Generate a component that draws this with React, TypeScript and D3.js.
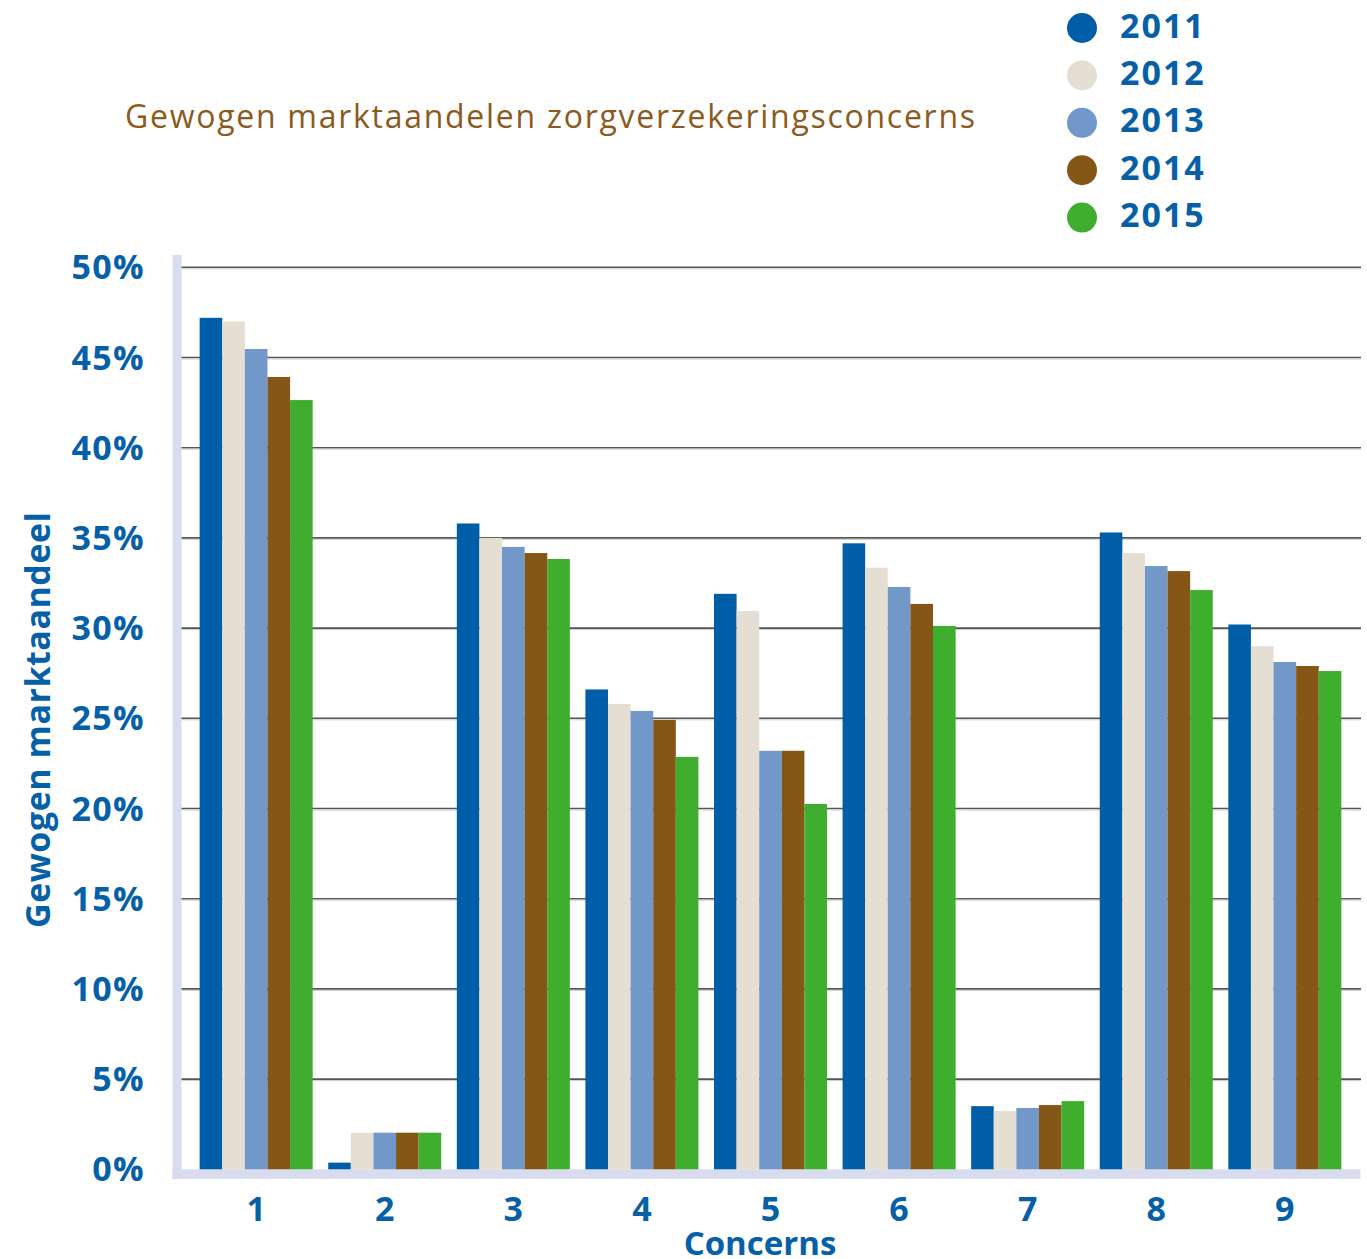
import React from "react";
import * as d3 from "d3";

const concerns = ["1", "2", "3", "4", "5", "6", "7", "8", "9"];
const years = ["2011", "2012", "2013", "2014", "2015"];
const colors = ["#005EA8", "#E5DED3", "#7298C9", "#845717", "#3FAE2E"];
const v2011 = [47.2, 0.37, 35.8, 26.6, 31.9, 34.7, 3.5, 35.3, 30.2];
const v2012 = [47.0, 2.03, 35.0, 25.8, 30.95, 33.35, 3.23, 34.16, 29.0];
const v2013 = [45.47, 2.03, 34.5, 25.41, 23.2, 32.28, 3.4, 33.44, 28.12];
const v2014 = [43.92, 2.03, 34.16, 24.91, 23.2, 31.34, 3.56, 33.16, 27.9];
const v2015 = [42.64, 2.03, 33.83, 22.86, 20.25, 30.12, 3.78, 32.11, 27.62];
const series = [v2011, v2012, v2013, v2014, v2015];
const yTicks = [0, 5, 10, 15, 20, 25, 30, 35, 40, 45, 50];

const BLUE = "#0560A8";
const FONT = "'Open Sans', 'DejaVu Sans', sans-serif";

export default function App() {
  const W = 1367;
  const H = 1259;
  const x0 = d3
    .scaleBand<string>()
    .domain(concerns)
    .range([181, 1360])
    .paddingInner(0.121)
    .paddingOuter(0.145);
  const x1 = d3
    .scaleBand<string>()
    .domain(years)
    .range([0, x0.bandwidth()])
    .padding(0);
  const y = d3.scaleLinear().domain([0, 50]).range([1169.3, 267.3]);

  return (
    <svg width={W} height={H} style={{ display: "block", position: "absolute", left: 0, top: 0 }}>
      <rect x={0} y={0} width={W} height={H} fill="#fff" />
      {/* title */}
      <text
        x={125}
        y={128}
        fill="#8B5A1C"
        fontFamily={FONT}
        fontSize={32}
        textLength={850}
        lengthAdjust="spacing"
      >
        Gewogen marktaandelen zorgverzekeringsconcerns
      </text>
      {/* legend */}
      {years.map((yr, i) => (
        <g key={yr}>
          <circle cx={1082} cy={28 + i * 47.4} r={15} fill={colors[i]} />
          <text x={1120} y={37.5 + i * 47.4} fill={BLUE} fontFamily={FONT} fontWeight={700} fontSize={34} letterSpacing={2}>
            {yr}
          </text>
        </g>
      ))}
      {/* axis bands */}
      <rect x={172.5} y={255} width={9} height={924} fill="#D8DCEE" />
      <rect x={172.5} y={1169.3} width={1188} height={9.5} fill="#D8DCEE" />
      {/* gridlines */}
      {yTicks
        .filter((t) => t > 0)
        .map((t) => (
          <g key={t}>
            <line x1={181.5} x2={1361} y1={y(t)} y2={y(t)} stroke="#555" strokeWidth={1.6} />
            <line x1={181.5} x2={1361} y1={y(t) + 1.5} y2={y(t) + 1.5} stroke="#ccc" strokeWidth={1} />
          </g>
        ))}
      {/* y tick labels */}
      {yTicks.map((t) => (
        <text
          key={t}
          x={145}
          y={y(t) + 12}
          textAnchor="end"
          fill={BLUE}
          fontFamily={FONT}
          fontWeight={700}
          fontSize={34}
          letterSpacing={1.3}
        >
          {t}%
        </text>
      ))}
      {/* bars */}
      {concerns.map((c, ci) => (
        <g key={c} transform={`translate(${x0(c)},0)`}>
          {years.map((yr, si) => (
            <rect
              key={yr}
              x={x1(yr)}
              y={y(series[si][ci])}
              width={x1.bandwidth()}
              height={y(0) - y(series[si][ci])}
              fill={colors[si]}
            />
          ))}
        </g>
      ))}
      {/* x tick labels */}
      {concerns.map((c) => (
        <text
          key={c}
          x={(x0(c) as number) + x0.bandwidth() / 2}
          y={1221}
          textAnchor="middle"
          fill={BLUE}
          fontFamily={FONT}
          fontWeight={700}
          fontSize={34}
        >
          {c}
        </text>
      ))}
      <text x={760} y={1255} textAnchor="middle" fill={BLUE} fontFamily={FONT} fontWeight={700} fontSize={33}>
        Concerns
      </text>
      <text
        transform="translate(50,720) rotate(-90)"
        textAnchor="middle"
        fill={BLUE}
        fontFamily={FONT}
        fontWeight={700}
        fontSize={34}
        textLength={416}
        lengthAdjust="spacing"
      >
        Gewogen marktaandeel
      </text>
    </svg>
  );
}
